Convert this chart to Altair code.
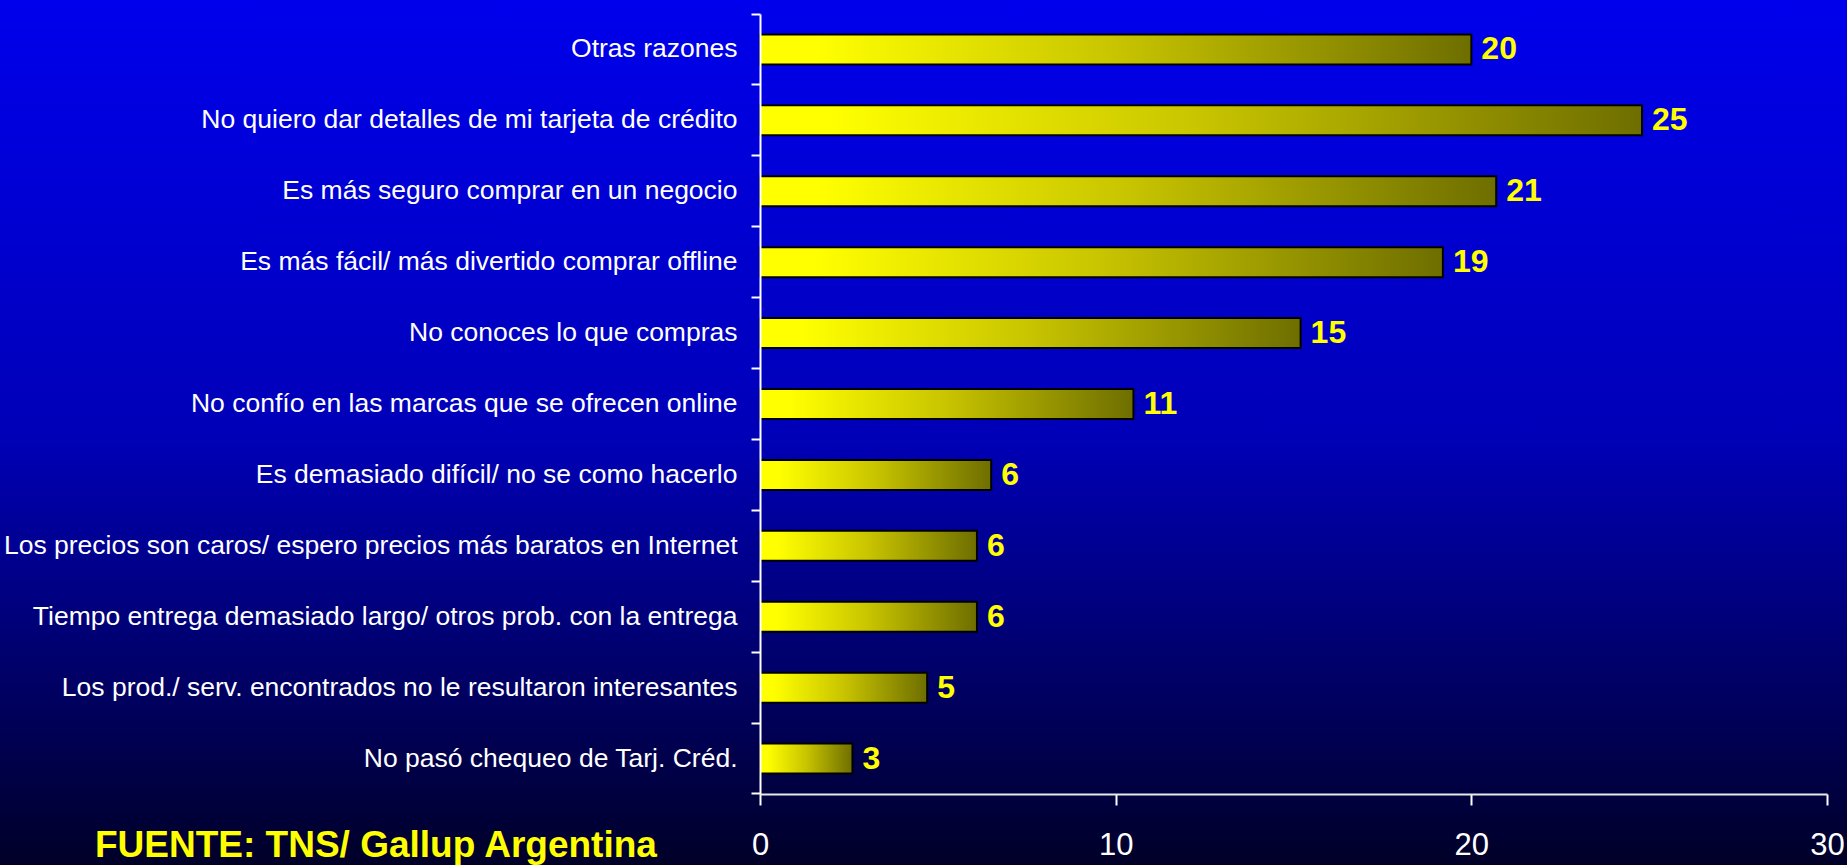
import altair as alt
import pandas as pd

categories = [
    "Otras razones",
    "No quiero dar detalles de mi tarjeta de crédito",
    "Es más seguro comprar en un negocio",
    "Es más fácil/ más divertido comprar offline",
    "No conoces lo que compras",
    "No confío en las marcas que se ofrecen online",
    "Es demasiado difícil/ no se como hacerlo",
    "Los precios son caros/ espero precios más baratos en Internet",
    "Tiempo entrega demasiado largo/ otros prob. con la entrega\u2003",
    "Los prod./ serv. encontrados no le resultaron interesantes",
    "No pasó chequeo de Tarj. Créd.",
]
values = [20.0, 24.8, 20.7, 19.2, 15.2, 10.5, 6.5, 6.1, 6.1, 4.7, 2.6]
value_labels = ["20", "25", "21", "19", "15", "11", "6", "6", "6", "5", "3"]
x_ticks = [0, 10, 20, 30]
source_text = ["FUENTE: TNS/ Gallup Argentina"]

df = pd.DataFrame({"cat": categories, "val": values, "lab": value_labels})

FONT = "Liberation Sans"
W, H = 1067, 780
PAD = {"left": 760, "top": 14, "right": 20, "bottom": 71}

bg = alt.Chart(alt.Data(values=[{"k": 1}])).mark_rect(
    fill=alt.LinearGradient(
        gradient="linear",
        stops=[
            alt.GradientStop(color="#0000EC", offset=0),
            alt.GradientStop(color="#0000B8", offset=0.5),
            alt.GradientStop(color="#000028", offset=1),
        ],
        x1=0, x2=0, y1=0, y2=1,
    )
).encode(
    x=alt.value(-PAD["left"]),
    x2=alt.value(W + PAD["right"]),
    y=alt.value(-PAD["top"]),
    y2=alt.value(H + PAD["bottom"]),
)

yenc = alt.Y(
    "cat:N",
    sort=categories,
    scale=alt.Scale(paddingInner=0, paddingOuter=0),
    axis=alt.Axis(
        title=None,
        labelColor="white",
        labelFont=FONT,
        labelFontSize=26.5,
        labelLimit=800,
        labelPadding=14,
        tickColor="white",
        tickSize=9,
        tickWidth=2,
        domainColor="white",
        domainWidth=2,
        bandPosition=1,
        tickExtra=True,
        zindex=2,
    ),
)

xenc = alt.X(
    "val:Q",
    scale=alt.Scale(domain=[0, 30], nice=False),
    axis=alt.Axis(
        title=None,
        values=x_ticks,
        grid=False,
        labelColor="white",
        labelFont=FONT,
        labelFontSize=31,
        labelPadding=25,
        labelFlush=False,
        tickColor="white",
        tickSize=11,
        tickWidth=2,
        domainColor="#E8E8E8",
        domainWidth=2,
        zindex=2,
    ),
)

bars = alt.Chart(df).mark_bar(
    fill=alt.LinearGradient(
        gradient="linear",
        stops=[
            alt.GradientStop(color="#FFFF00", offset=0),
            alt.GradientStop(color="#FFFF00", offset=0.08),
            alt.GradientStop(color="#C8C400", offset=0.5),
            alt.GradientStop(color="#6E6E00", offset=1),
        ],
        x1=0, x2=1, y1=0, y2=0,
    ),
    stroke="black",
    strokeWidth=2,
    size=30,
).encode(x=xenc, y=yenc)

texts = alt.Chart(df).mark_text(
    align="left",
    baseline="middle",
    dx=10,
    font=FONT,
    fontSize=32,
    fontWeight="bold",
    fill="#FFFF00",
).encode(
    x=alt.X("val:Q"),
    y=alt.Y("cat:N", sort=categories),
    text="lab:N",
)

source = alt.Chart(alt.Data(values=[{"t": s} for s in source_text])).mark_text(
    align="left",
    baseline="alphabetic",
    font=FONT,
    fontSize=37,
    fontWeight="bold",
    fill="#FFFF00",
).encode(
    x=alt.value(95 - PAD["left"]),
    y=alt.value(857 - PAD["top"]),
    text="t:N",
)

chart = alt.layer(bg, bars, texts, source).properties(
    width=W,
    height=H,
    padding=PAD,
    autosize=alt.AutoSizeParams(type="none"),
    background="#00008A",
).configure_view(stroke=None)

chart.save("out.html", embed_options={"renderer": "svg", "actions": False})
